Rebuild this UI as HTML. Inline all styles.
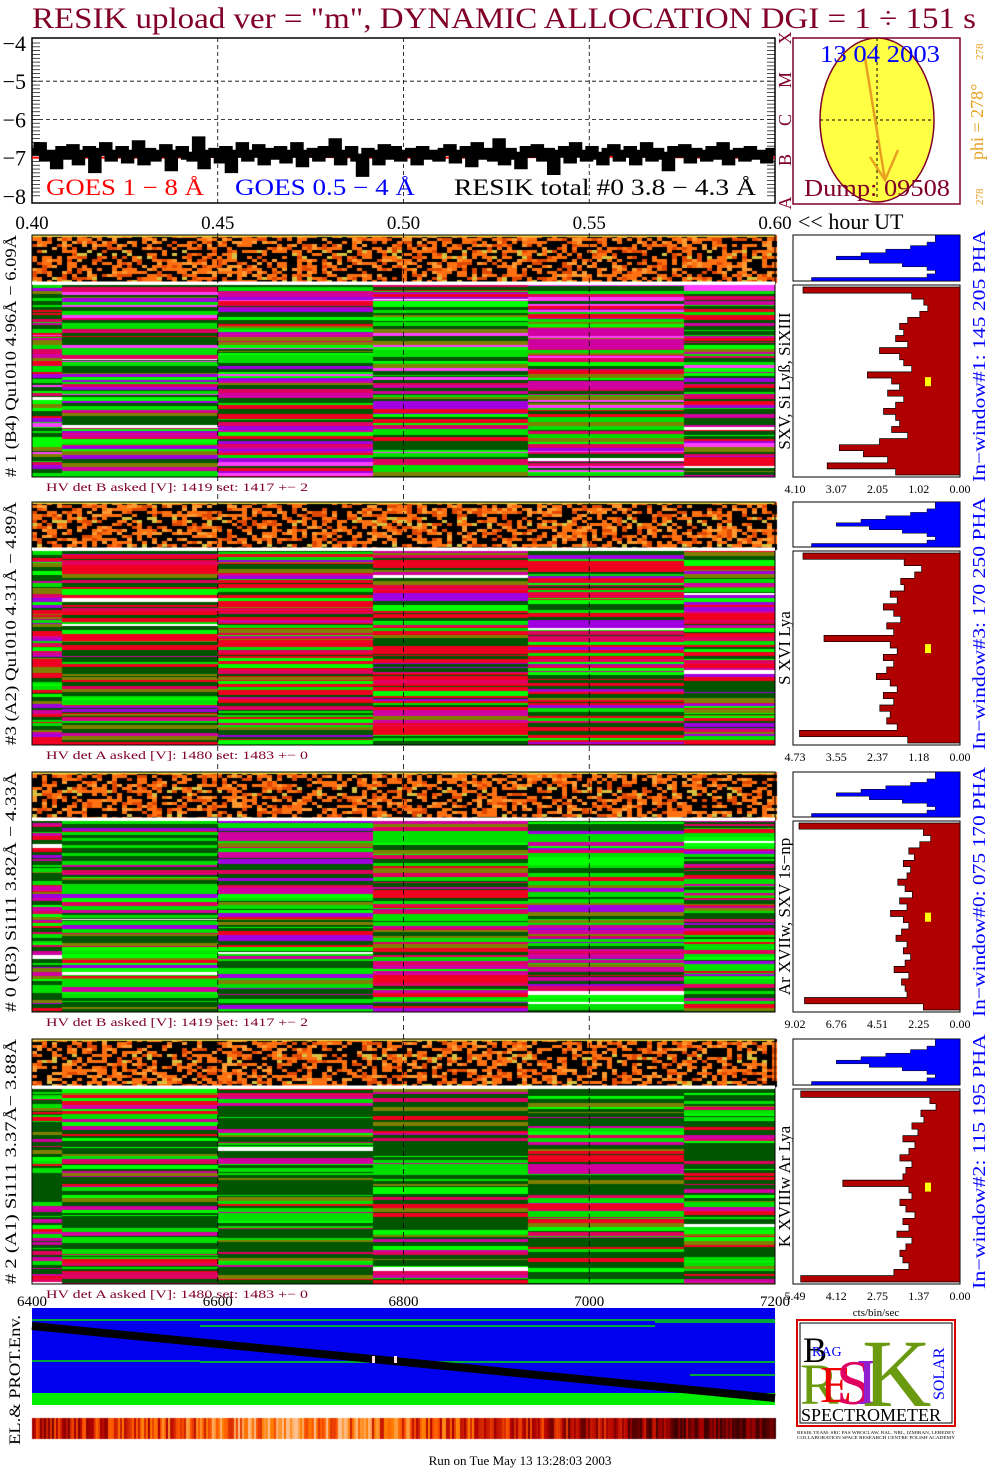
<!DOCTYPE html>
<html><head><meta charset="utf-8">
<style>
body{margin:0;background:#fff;}
#wrap{position:relative;width:1004px;height:1476px;overflow:hidden;background:#fff;}
canvas,svg{position:absolute;left:0;top:0;}
text{font-family:"Liberation Serif",serif;}
</style></head>
<body>
<div id="wrap">
<canvas id="tex" width="1004" height="1476"></canvas>
<svg id="s" width="1004" height="1476"></svg>
</div>
<script>
// ---- data ----
const xTicks=["0.40","0.45","0.50","0.55","0.60"];
const yTicks=[-4,-5,-6,-7,-8];
const resikVals=[-6.85,-6.7,-7.0,-6.9,-7.2,-6.8,-6.95,-6.75,-7.1,-6.9,-6.8,-7.3,-6.85,-6.7,-7.0,-6.9,-6.8,-7.05,-6.9,-6.65,-7.1,-6.85,-7.0,-6.9,-6.75,-7.25,-6.9,-6.8,-6.95,-7.0,-6.55,-7.2,-6.9,-6.85,-7.05,-6.8,-7.3,-6.9,-6.7,-7.0,-6.9,-6.75,-7.1,-6.85,-6.95,-6.8,-7.05,-6.9,-6.7,-7.15,-6.9,-6.85,-7.0,-6.8,-6.9,-6.6,-7.1,-6.9,-6.8,-7.0,-7.4,-6.85,-6.9,-7.1,-6.75,-6.95,-6.8,-7.0,-6.9,-6.85,-7.1,-6.8,-6.95,-6.9,-7.0,-6.85,
-6.75,-7.05,-6.9,-6.8,-7.15,-6.7,-6.95,-6.85,-7.0,-6.6,-7.1,-6.85,-6.95,-7.2,-6.8,-6.9,-6.75,-7.0,-6.85,-7.35,-6.9,-6.8,-7.05,-6.7,-6.9,-7.0,-6.8,-6.95,-7.1,-6.85,-6.75,-7.0,-6.9,-6.8,-7.1,-6.9,-6.7,-7.0,-6.85,-6.95,-7.25,-6.8,-6.9,-6.75,-7.05,-6.85,-6.9,-7.0,-6.8,-6.95,-6.7,-7.1,-6.9,-6.85,-7.0,-6.8,-6.95,-6.9,-7.05,-6.85];
const goesVals=[-7.0,-7.0,-7.0,-6.98,-6.98,-7.0,-7.0,-7.0,-6.97,-6.98,-7.0,-7.0];
const panelNames=["# 1 (B4) Qu1010 4.96Å − 6.09Å","#3 (A2) Qu1010  4.31Å − 4.89Å","# 0 (B3) Si111  3.82Å − 4.33Å","# 2 (A1) Si111  3.37Å− 3.88Å"];
const lineNames=["SXV, Si Lyß, SiXIII","S XVI Lya","Ar XVIIw, SXV 1s−np","K XVIIIw  Ar Lya"];
const winNames=["In−window#1:  145 205 PHA","In−window#3:  170 250 PHA","In−window#0:  075 170 PHA","In−window#2:  115 195 PHA"];
const hvText=["HV det B asked [V]:  1419 set:  1417 +−    2","HV det A asked [V]:  1480 set:  1483 +−    0","HV det B asked [V]:  1419 set:  1417 +−    2","HV det A asked [V]:  1480 set:  1483 +−    0"];
const profMax=[4.10,4.73,9.02,5.49];
const profTicks=[["4.10","3.07","2.05","1.02","0.00"],["4.73","3.55","2.37","1.18","0.00"],["9.02","6.76","4.51","2.25","0.00"],["5.49","4.12","2.75","1.37","0.00"]];
const prof1=[3.9,1.2,0.9,0.8,1.0,1.3,1.5,1.4,1.6,1.3,2.0,1.5,1.4,1.2,2.3,1.7,1.5,1.8,1.4,1.6,1.9,1.6,1.5,1.7,1.3,2.0,3.0,2.4,1.8,3.3,1.6];
const prof3=[4.5,1.6,1.1,1.3,1.7,1.6,2.0,1.8,2.2,1.9,1.7,2.1,1.9,3.9,2.0,1.8,2.2,1.9,2.1,2.4,2.0,1.8,2.2,1.9,2.3,2.0,2.1,1.8,4.6,1.5];
const prof0=[8.8,2.0,1.6,2.2,2.8,2.5,3.1,2.7,2.9,3.4,3.0,2.6,3.3,2.9,3.8,3.1,2.8,3.2,3.5,2.9,3.1,2.7,3.0,3.6,2.8,3.2,3.0,2.9,8.5,2.0];
const prof2=[5.3,1.0,0.8,1.3,1.2,1.6,1.4,1.9,1.5,1.7,2.0,1.6,1.8,1.9,3.9,1.7,1.6,2.0,1.8,1.5,1.9,1.7,2.1,1.6,1.8,2.0,1.9,1.7,2.2,5.3];
const profs=[prof1,prof3,prof0,prof2];
const blueProf=[0.15,0.15,0.2,0.3,0.45,0.6,0.75,0.55,0.35,0.2,0.15,0.2,0.9];
const envTicks=["6400","6600","6800","7000","7200"];

// ---- helpers ----
const S=document.getElementById('s');const NS="http://www.w3.org/2000/svg";
function E(tag,at,parent){const e=document.createElementNS(NS,tag);for(const k in at)e.setAttribute(k,at[k]);(parent||S).appendChild(e);return e;}
function T(x,y,str,size,col,opt){opt=opt||{};const a={x:x,y:y,'font-size':size,fill:col};if(opt.w){a.textLength=opt.w;a.lengthAdjust='spacingAndGlyphs';}if(opt.anchor)a['text-anchor']=opt.anchor;if(opt.rot)a.transform='rotate('+opt.rot+' '+x+' '+y+')';const e=E('text',a);e.textContent=str;return e;}
function h(a,b,c){let x=(a*374761393+b*668265263+(c||0)*2147483647)|0;x=(x^(x>>>13))*1274126177|0;x=x^(x>>>16);return ((x>>>0)%10000)/10000;}
const C=document.getElementById('tex').getContext('2d');

// ---- title ----
let t=T(32,28,'RESIK upload ver = "m", DYNAMIC ALLOCATION  DGI =   1 ÷ 151 s',30,'#800028',{w:944});


// ---- top plot ----
const X0=32,X1=775,PT=38,PB=203;
function xs(v){return X0+(v-0.40)/0.20*(X1-X0);}
function ys(v){return 43+(-4-v)*38.2;}
let g=E('g',{});
E('rect',{x:X0,y:PT,width:X1-X0,height:PB-PT,fill:'#fff',stroke:'#000','stroke-width':1.5},g);
for(let i=1;i<4;i++){const x=xs(0.40+i*0.05);E('line',{x1:x,x2:x,y1:PT,y2:PB,stroke:'#000','stroke-dasharray':'4,3','stroke-width':0.8},g);}
[-5,-6].forEach(v=>E('line',{x1:X0,x2:X1,y1:ys(v),y2:ys(v),stroke:'#000','stroke-dasharray':'4,3','stroke-width':0.8},g));
for(let v=-8;v<=-4;v+=0.1){const y=ys(v);if(y<PT||y>PB)continue;E('line',{x1:X0,x2:X0+8,y1:y,y2:y,stroke:'#000','stroke-width':0.7},g);E('line',{x1:X1-8,x2:X1,y1:y,y2:y,stroke:'#000','stroke-width':0.7},g);}
yTicks.forEach(v=>{const e=T(26,ys(v)+8,'−'+(-v),22,'#000',{anchor:'end'});});
xTicks.forEach((s,i)=>{const e=T(xs(0.40+i*0.05),229,s,19,'#000',{anchor:'middle'});});
T(798,229,'<< hour UT',22,'#000');
let gp='';goesVals.forEach((v,i)=>{gp+=(i?'L':'M')+xs(0.40+i*0.2/(goesVals.length-1)).toFixed(1)+' '+ys(v).toFixed(1);});
let gl=E('path',{d:gp,fill:'none',stroke:'#f00','stroke-width':2},g);
let rp='';const n=resikVals.length;resikVals.forEach((v,i)=>{const xa=xs(0.40+i*0.2/n),xb=xs(0.40+(i+1)*0.2/n);rp+=(i?'L':'M')+xa.toFixed(1)+' '+ys(v).toFixed(1)+'L'+xb.toFixed(1)+' '+ys(v).toFixed(1);});
let rl=E('path',{d:rp,fill:'none',stroke:'#000','stroke-width':8},g);
T(46,195,'GOES 1 − 8 Å',23,'#f00',{w:158});T(235,195,'GOES 0.5 − 4 Å',23,'#00f',{w:180});T(454,195,'RESIK total #0  3.8 − 4.3 Å',23,'#000',{w:302});
['X','M','C','B','A'].forEach((c,i)=>T(791,[38,80,120,160,203][i],c,18,'#800028',{rot:-90,anchor:'middle'}));
// sun
let sg=E('g',{});
E('rect',{x:793,y:38,width:167,height:166,fill:'#fff',stroke:'#800028','stroke-width':1.5},sg);
E('ellipse',{cx:877,cy:120,rx:57,ry:82,fill:'#ff4',stroke:'#800028','stroke-width':1.5},sg);
E('line',{x1:820,x2:934,y1:120,y2:120,stroke:'#000','stroke-dasharray':'3,3'},sg);
E('line',{x1:877,x2:877,y1:38,y2:200,stroke:'#000','stroke-dasharray':'3,3'},sg);
E('path',{d:'M865 58 L885 180 M870 157 L885 180 L898 150',stroke:'#e8a020','stroke-width':2.5,fill:'none'},sg);
T(880,62,'13 04 2003',24,'#00f',{anchor:'middle',w:120});T(877,196,'Dump: 09508',24,'#800028',{anchor:'middle',w:146});
T(983,160,'phi = 278°',18,'#e8a020',{rot:-90});T(983,60,'278',11,'#e8a020',{rot:-90});T(983,205,'278',11,'#e8a020',{rot:-90});

// ---- detector panels ----
const panels=[{t:235,m:285,b:477},{t:502,m:551,b:745},{t:772,m:821,b:1012},{t:1039,m:1089,b:1284}];
const segX=[32,62,218,373,528,684,775];
const DG='#005500',RD='#f00020',GR='#00e000',LG='#00ff00',MG='#d000a0',PU='#a000e0',OL='#808000',MG2='#e00060',WH='#ffffff',MG3='#ff40ff';
const pal=[[DG,DG,GR,LG,MG,MG2,RD,PU,OL,GR,MG3,DG],
[DG,DG,RD,RD,MG2,GR,MG,PU,OL,RD,LG,DG],
[DG,DG,GR,GR,LG,RD,MG2,MG,OL,DG,GR,PU],
[DG,DG,DG,GR,LG,RD,MG2,MG,OL,DG,GR,DG]];
panels.forEach((p,k)=>{
  for(let y=p.t;y<p.m-3;y+=3)for(let x=X0;x<X1;x+=5){const r=h(x,y,k);const fr=(y-p.t)/(p.m-3-p.t);const mid=Math.abs(fr-0.4)<0.1||fr>0.85;C.fillStyle=r<0.45?'#000':r<0.75?'#ff7010':r<0.88?'#e04800':(mid?'#d8c040':'#ff9a30');C.fillRect(x,y,5,3);}
  C.fillStyle='#e0d040';C.fillRect(X0,p.t,X1-X0,2);
  for(let s=0;s<6;s++){let y=p.m;while(y<p.b){const r=h(s,y,k+7);const hh=1+Math.floor(h(y,s,k+3)*4);const c=(h(s*7,y,k)<0.015)?WH:pal[k][Math.floor(r*12)];C.fillStyle=c;C.fillRect(segX[s],y,segX[s+1]-segX[s],Math.min(hh,p.b-y));y+=hh;}}
  let pg=E('g',{});
  E('rect',{x:X0,y:p.t,width:X1-X0,height:p.b-p.t,fill:'none',stroke:'#000','stroke-width':1},pg);
  E('line',{x1:X0,x2:X1,y1:p.m-2,y2:p.m-2,stroke:'#fff','stroke-width':3},pg);
  T(16,(p.t+p.b)/2,panelNames[k],16,'#000',{rot:-90,anchor:'middle',w:p.b-p.t});
  T(46,p.b+14,hvText[k],12,'#800028',{w:262});
  T(790,(p.m+p.b)/2,lineNames[k],17,'#000',{rot:-90,anchor:'middle'});
  T(985,(p.t+p.b)/2,winNames[k],18,'#00f',{rot:-90,anchor:'middle',w:p.b-p.t+10});
  const bx0=795,bx1=960;E('rect',{x:bx0-2,y:p.t,width:bx1-bx0+2,height:p.m-p.t-4,fill:'#fff',stroke:'#000'},pg);
  let d='M'+bx1+' '+p.t;const bh=(p.m-4-p.t)/blueProf.length;blueProf.forEach((v,i)=>{const x=bx1-v*(bx1-bx0);d+='L'+x.toFixed(1)+' '+(p.t+i*bh).toFixed(1)+'L'+x.toFixed(1)+' '+(p.t+(i+1)*bh).toFixed(1);});d+='L'+bx1+' '+(p.m-4)+'Z';
  let bp=E('path',{d:d,fill:'#0000ff',stroke:'#000','stroke-width':0.5},pg);
  E('rect',{x:bx0-2,y:p.m,width:bx1-bx0+2,height:p.b-p.m,fill:'#fff',stroke:'#000'},pg);
  const pr=profs[k],rh=(p.b-p.m-4)/pr.length;let rd='M'+bx1+' '+(p.m+2);
  pr.forEach((v,i)=>{const x=bx1-v/profMax[k]*(bx1-bx0);rd+='L'+x.toFixed(1)+' '+(p.m+2+i*rh).toFixed(1)+'L'+x.toFixed(1)+' '+(p.m+2+(i+1)*rh).toFixed(1);});rd+='L'+bx1+' '+(p.b-2)+'Z';
  let rpth=E('path',{d:rd,fill:'#b00000',stroke:'#000','stroke-width':0.7},pg);
  E('rect',{x:bx1-35,y:p.m+(p.b-p.m)*0.48,width:6,height:9,fill:'#ff0'},pg);
  profTicks[k].forEach((s,i)=>T(bx0+i*(bx1-bx0)/4,p.b+16,s,12,'#000',{anchor:'middle'}));
});
for(let i=1;i<4;i++){const x=xs(0.40+i*0.05);E('line',{x1:x,x2:x,y1:233,y2:1286,stroke:'#000','stroke-dasharray':'5,4','stroke-width':0.8});}
T(876,1316,'cts/bin/sec',11,'#000',{anchor:'middle'});

// ---- environment plot ----
const ex=v=>X0+(v-6400)/800*(X1-X0);
envTicks.forEach(s=>{const e=T(ex(+s),1306,s,15,'#000',{anchor:'middle'});});
let eg=E('g',{});
E('rect',{x:X0,y:1308,width:X1-X0,height:88,fill:'#0000ee'},eg);
E('rect',{x:X0,y:1393,width:X1-X0,height:12,fill:'#00ee00'},eg);
[[32,1320,775],[200,1326,655],[655,1322,775],[32,1361,200],[200,1362,690],[690,1362,775],[690,1375,775]].forEach(a=>E('line',{x1:a[0],x2:a[2],y1:a[1],y2:a[1],stroke:'#00e000','stroke-width':1.5},eg));
E('line',{x1:X0,y1:1326,x2:X1,y2:1398,stroke:'#000','stroke-width':8},eg);
E('rect',{x:372,y:1356,width:3,height:7,fill:'#fdd'},eg);E('rect',{x:394,y:1356,width:3,height:7,fill:'#fdd'},eg);
T(20,1380,'EL.& PROT.Env.',16,'#000',{rot:-90,anchor:'middle',w:130});
for(let x=X0;x<X1;x+=2){const r=h(x,3,99);const w=Math.max(0,Math.min(1,0.6-Math.abs(x-290)/600+r*0.5));const rr=Math.round(60+195*Math.min(1,w*1.5)),gg=Math.round(200*Math.max(0,w-0.4)*1.6),bb=Math.round(180*Math.max(0,w-0.8)*4);C.fillStyle='rgb('+rr+','+Math.min(255,gg)+','+Math.min(255,bb)+')';C.fillRect(x,1418,2,21);}
// logo
let lg=E('g',{});
E('rect',{x:797,y:1320,width:158,height:106,fill:'#fff',stroke:'#d00','stroke-width':2},lg);
E('rect',{x:800,y:1323,width:152,height:100,fill:'none',stroke:'#000','stroke-width':1},lg);
const L=(x,y,s,z,c,rot)=>{const a={x:x,y:y,'font-size':z,fill:c};if(rot)a.transform='rotate('+rot+' '+x+' '+y+')';const e=E('text',a,lg);e.textContent=s;};
L(803,1362,'B',36,'#000');L(812,1356,'RAG',14,'#00f');L(800,1404,'R',58,'#6a9a10');L(820,1402,'E',52,'#e00');L(836,1404,'S',64,'#e00060');L(856,1404,'I',66,'#9020d0');L(862,1406,'K',96,'#6a9a10');L(944,1400,'SOLAR',16,'#00f',-90);
L(801,1421,'SPECTROMETER',18,'#000');
T(797,1434,'RESIK TEAM: SRC PAS WROCLAW, RAL, NRL, IZMIRAN, LEBEDEV',4,'#000',{w:158});T(797,1439,'COLLABORATION SPACE RESEARCH CENTRE POLISH ACADEMY',4,'#000',{w:158});
let ft=T(520,1465,'Run on Tue May 13 13:28:03 2003',13,'#000',{anchor:'middle'});
</script>
</body></html>
